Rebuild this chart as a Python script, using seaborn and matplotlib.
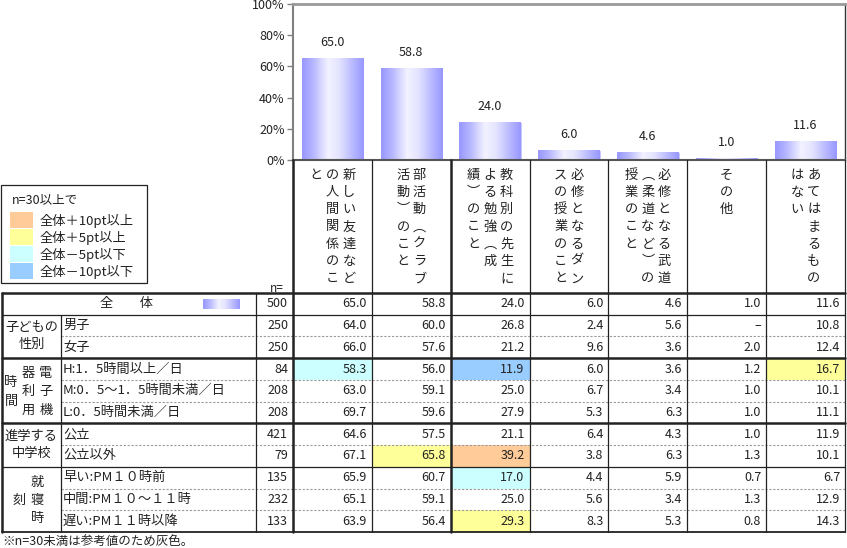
import numpy as np
import matplotlib
matplotlib.use("Agg")
import matplotlib.pyplot as plt
import seaborn as sns
from matplotlib.patches import Rectangle
from matplotlib.colors import LinearSegmentedColormap

sns.set_style("white")
plt.rcParams["font.family"] = ["Noto Sans CJK JP", "DejaVu Sans"]

# 選択肢（縦書き見出しは右の列から）
categories = ["新しい友達などとの人間関係のこと", "部活動（クラブ活動）のこと",
              "教科別の先生による勉強（成績）のこと", "必修となるダンスの授業のこと",
              "必修となる武道（柔道など）の授業のこと", "その他", "あてはまるものはない"]
header_cols = [
    ["新しい友達など", "の人間関係のこ", "と"],
    ["部活動︵クラブ", "活動︶のこと"],
    ["教科別の先生に", "よる勉強︵成", "績︶のこと"],
    ["必修となるダン", "スの授業のこと"],
    ["必修となる武道", "︵柔道など︶の", "授業のこと"],
    ["その他"],
    ["あてはまるもの", "はない"],
]

# 全体
total_n = 500
total_pct = [65.0, 58.8, 24.0, 6.0, 4.6, 1.0, 11.6]

# 属性別
row_labels = ["男子", "女子",
              "H:1．5時間以上／日", "M:0．5～1．5時間未満／日", "L:0．5時間未満／日",
              "公立", "公立以外",
              "早い:PM１０時前", "中間:PM１０～１１時", "遅い:PM１１時以降"]
row_n = [250, 250, 84, 208, 208, 421, 79, 135, 232, 133]
row_pct = [
    [64.0, 60.0, 26.8, 2.4, 5.6, None, 10.8],
    [66.0, 57.6, 21.2, 9.6, 3.6, 2.0, 12.4],
    [58.3, 56.0, 11.9, 6.0, 3.6, 1.2, 16.7],
    [63.0, 59.1, 25.0, 6.7, 3.4, 1.0, 10.1],
    [69.7, 59.6, 27.9, 5.3, 6.3, 1.0, 11.1],
    [64.6, 57.5, 21.1, 6.4, 4.3, 1.0, 11.9],
    [67.1, 65.8, 39.2, 3.8, 6.3, 1.3, 10.1],
    [65.9, 60.7, 17.0, 4.4, 5.9, 0.7, 6.7],
    [65.1, 59.1, 25.0, 5.6, 3.4, 1.3, 12.9],
    [63.9, 56.4, 29.3, 8.3, 5.3, 0.8, 14.3],
]
# グループ見出し: (横書き h / 縦書き v, 文字列, 行数)
groups = [
    ("h", ["子どもの", "性別"], 2),
    ("v", ["電子機", "器利用", "時間"], 3),
    ("h", ["進学する", "中学校"], 2),
    ("v", ["就寝時", "刻"], 3),
]

legend_labels = ["全体＋10pt以上", "全体＋5pt以上", "全体－5pt以下", "全体－10pt以下"]
legend_colors = ["#FFCC99", "#FFFF99", "#CCFFFF", "#99CCFF"]


def cell_color(v, base, n):
    if v is None or n < 30:
        return None
    d = round(v - base, 1)
    if d >= 10:
        return legend_colors[0]
    if d >= 5:
        return legend_colors[1]
    if d <= -10:
        return legend_colors[3]
    if d <= -5:
        return legend_colors[2]
    return None


W, H = 847, 548
fig = plt.figure(figsize=(W / 100, H / 100), dpi=100)

grad_cmap = LinearSegmentedColormap.from_list(
    "bar", [(0, "#9898FF"), (0.18, "#B8B8FF"), (0.42, "#F2F2FF"), (0.6, "#E4E4FF"), (1, "#9898FF")])
grad = np.linspace(0, 1, 64).reshape(1, -1)

# 上の棒グラフ
ax = fig.add_axes([293 / W, 1 - 160 / H, 552 / W, 156 / H])
sns.barplot(x=categories, y=total_pct, ax=ax, width=0.78, color="#9999FF", saturation=1,
            edgecolor="#C8C8FF", linewidth=0.6)
for bar in ax.patches:
    x0, y0, x1, y1 = bar.get_bbox().extents
    ax.imshow(grad, extent=[x0, x1, y0, y1], aspect="auto", cmap=grad_cmap,
              zorder=bar.get_zorder() + 0.1, clip_path=bar, clip_on=True)
ax.bar_label(ax.containers[0], fmt="%.1f", padding=7, fontsize=9, color="#222222")
ax.set_xlim(-0.5, 6.5)
ax.set_ylim(0, 100)
ax.set_yticks(range(0, 101, 20))
ax.set_yticklabels([f"{v}%" for v in range(0, 101, 20)], fontsize=9, color="#222222")
ax.set_xticks([])
ax.set_xlabel("")
ax.set_ylabel("")
ax.tick_params(axis="y", left=True, length=4, width=1, color="#808080", pad=2)
ax.spines["left"].set_color("#808080")
ax.spines["left"].set_linewidth(1.5)
ax.spines["top"].set_color("#999999")
ax.spines["top"].set_linewidth(2)
ax.spines["bottom"].set_color("#555555")
ax.spines["bottom"].set_linewidth(1.5)
ax.spines["right"].set_color("#333333")
ax.spines["right"].set_linewidth(1)

# 下の表（ピクセル座標）
tab = fig.add_axes([0, 0, 1, 1])
tab.set_axis_off()

col_edges = np.linspace(293, 845, 8)
row_top, row_h = 293, 21.73
row_edges = row_top + row_h * np.arange(len(row_labels) + 2)
row_mid = (row_edges[:-1] + row_edges[1:]) / 2
txt = "#222222"
thick, thin = 1.8, 0.9

# 見出し（縦書き）
dx, dy = 16.5, 17.3
for i, cols in enumerate(header_cols):
    cx = (col_edges[i] + col_edges[i + 1]) / 2
    k = len(cols)
    for j, s in enumerate(cols):
        x = cx + ((k - 1) / 2 - j) * dx
        for m, ch in enumerate(s):
            tab.text(x, 175 + m * dy, ch, ha="center", va="center", fontsize=9.5, color=txt)

# 凡例
tab.add_patch(Rectangle((0.5, 185), 146.5, 98, fill=False, edgecolor="#222222", lw=0.9))
tab.text(12, 200, "n=30以上で", ha="left", va="center", fontsize=9, color=txt)
for i, (lab, c) in enumerate(zip(legend_labels, legend_colors)):
    y = 212 + i * 17
    tab.add_patch(Rectangle((10, y), 23, 16, facecolor=c, edgecolor="none"))
    tab.text(40, y + 8.5, lab, ha="left", va="center", fontsize=9.5, color=txt)

tab.text(284, 288, "n=", ha="right", va="center", fontsize=8.5, color=txt)

# 全体の行
tab.text(127, row_mid[0], "全　　体", ha="center", va="center", fontsize=9.5, color=txt)
tab.imshow(grad, extent=[203, 240, 309, 299], aspect="auto", cmap=grad_cmap, zorder=3)
tab.text(288, row_mid[0], str(total_n), ha="right", va="center", fontsize=9, color=txt)
for i, v in enumerate(total_pct):
    tab.text(col_edges[i + 1] - 5, row_mid[0], f"{v:.1f}", ha="right", va="center",
             fontsize=9, color=txt)

# 属性別の行
for r, (lab, n, vals) in enumerate(zip(row_labels, row_n, row_pct)):
    y = row_mid[r + 1]
    tab.text(63, y, lab, ha="left", va="center", fontsize=9.5, color=txt)
    tab.text(288, y, str(n), ha="right", va="center", fontsize=9, color=txt)
    for i, v in enumerate(vals):
        c = cell_color(v, total_pct[i], n)
        if c:
            tab.add_patch(Rectangle((col_edges[i], row_edges[r + 1]), col_edges[i + 1] - col_edges[i],
                                    row_h, facecolor=c, edgecolor="none", zorder=0))
        s = "–" if v is None else f"{v:.1f}"
        tab.text(col_edges[i + 1] - 5, y, s, ha="right", va="center", fontsize=9, color=txt)

# グループ見出し
r0 = 1
group_bounds = []
for kind, parts, nrows in groups:
    top, bottom = row_edges[r0], row_edges[r0 + nrows]
    cy = (top + bottom) / 2
    if kind == "h":
        for j, s in enumerate(parts):
            tab.text(31.5, cy + (j - (len(parts) - 1) / 2) * 17, s, ha="center", va="center",
                     fontsize=9.5, color=txt)
    else:
        k = len(parts)
        for j, s in enumerate(parts):
            x = 28.5 + ((k - 1) / 2 - j) * 17.5
            for m, ch in enumerate(s):
                tab.text(x, cy + 1 + (m - (len(s) - 1) / 2) * 18.5, ch, ha="center", va="center",
                         fontsize=9.5, color=txt)
    group_bounds.append((r0, r0 + nrows))
    r0 += nrows

# 罫線
tab.plot([2, 845], [row_edges[0]] * 2, color="#222222", lw=thick)
tab.plot([2, 845], [row_edges[1]] * 2, color="#222222", lw=thin)
for gi, (a, b) in enumerate(group_bounds):
    for r in range(a + 1, b):
        tab.plot([61, 845], [row_edges[r]] * 2, color="#999999", lw=0.8, ls=(0, (2, 1.5)))
    lw = thick if gi < 2 else (thin if gi == 2 else 1.3)
    tab.plot([2, 845], [row_edges[b]] * 2, color="#222222", lw=lw)

tab.plot([2, 2], [row_edges[0], row_edges[-1]], color="#222222", lw=thick)
tab.plot([61, 61], [row_edges[1], row_edges[-1]], color="#222222", lw=thin)
tab.plot([256, 256], [row_edges[0], row_edges[-1]], color="#222222", lw=thin)
for i, x in enumerate(col_edges):
    lw = thick if i in (0, 2) else thin
    tab.plot([x, x], [160, row_edges[-1]], color="#222222", lw=lw)

tab.text(2, 541, "※n=30未満は参考値のため灰色。", ha="left", va="center", fontsize=9, color=txt)

tab.set_xlim(0, W)
tab.set_ylim(H, 0)

fig.savefig("out.png", dpi=100)
